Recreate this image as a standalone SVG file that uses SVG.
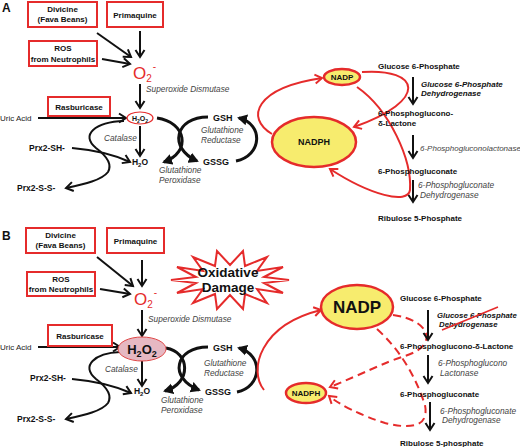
<svg xmlns="http://www.w3.org/2000/svg" width="520" height="447" viewBox="0 0 520 447">
<defs>
<style>
text{font-family:"Liberation Sans",Arial,sans-serif;}
.b{font-weight:bold;font-size:8px;fill:#111;}
.bc{font-weight:bold;font-size:8px;fill:#111;text-anchor:middle;}
.i{font-style:italic;font-size:8.3px;fill:#444;}
.bi{font-style:italic;font-weight:bold;font-size:8px;fill:#111;}
.n{font-size:8px;fill:#222;}
.box{fill:#fff;stroke:#e52b2b;stroke-width:2;}
.ar{stroke:#111;stroke-width:2;fill:none;marker-end:url(#chev);}
.arc{stroke:#111;stroke-width:3;fill:none;marker-end:url(#tri);}
.red{stroke:#e52b2b;stroke-width:2;fill:none;marker-end:url(#chevR);}
.dash{stroke:#e52b2b;stroke-width:2;fill:none;stroke-dasharray:8,5;marker-end:url(#chevR);}
.yel{fill:#f7ec6e;stroke:#e52b2b;stroke-width:2.5;}
</style>
<marker id="chev" markerUnits="userSpaceOnUse" markerWidth="12" markerHeight="12" refX="9" refY="6" orient="auto"><path d="M2,1.5 L9,6 L2,10.5" fill="none" stroke="#111" stroke-width="2"/></marker>
<marker id="chevR" markerUnits="userSpaceOnUse" markerWidth="12" markerHeight="12" refX="9" refY="6" orient="auto"><path d="M2,1.5 L9,6 L2,10.5" fill="none" stroke="#e52b2b" stroke-width="2"/></marker>
<marker id="tri" markerUnits="userSpaceOnUse" markerWidth="12" markerHeight="12" refX="8" refY="6" orient="auto"><path d="M0,0.5 L10,6 L0,11.5 z" fill="#111"/></marker>
</defs>
<rect width="520" height="447" fill="#fff"/>

<!-- PANEL A -->
<text x="2" y="12" style="font-weight:bold;font-size:12px;fill:#111">A</text>
<g id="connectorsA">
<line class="ar" x1="97" y1="33" x2="131" y2="57"/>
<line class="ar" x1="102" y1="59" x2="130" y2="64"/>
<line class="ar" x1="140" y1="31" x2="140" y2="57"/>
<line class="ar" x1="140" y1="84" x2="140" y2="108"/>
<line class="ar" x1="38" y1="118" x2="126" y2="118"/>
<line class="ar" x1="140" y1="126" x2="140" y2="156"/>
<path class="ar" d="M124,121 C95,122 80,135 96,148 C108,157 112,165 108,172 C102,180 85,184 66,188"/>
<path class="ar" d="M72,148 C95,150 115,155 130,162"/>
<path class="arc" d="M157,118 C186,122 192,152 164,162"/>
<path class="arc" d="M208,117 C175,117 168,148 197,161"/>
<path class="arc" d="M236,161 C262,156 264,124 239,118"/>
<path class="red" d="M272,134 C245,118 255,88 322,78"/>
<path class="red" d="M362,72 C420,68 430,100 354,127"/>
<path class="red" d="M357,87 C390,110 412,160 410,190 C408,205 370,195 330,169"/>
<line class="ar" x1="413" y1="77" x2="413" y2="104"/>
<line class="ar" x1="413" y1="135" x2="413" y2="158"/>
<line class="ar" x1="413" y1="180" x2="413" y2="202"/>
</g>
<g id="divicineA"><rect class="box" x="28" y="2" width="69" height="25"/><text class="bc" x="62.5" y="12">Divicine</text><text class="bc" x="62.5" y="22">(Fava Beans)</text></g>
<g id="primaquineA"><rect class="box" x="107" y="2" width="56" height="25"/><text class="bc" x="135" y="18">Primaquine</text></g>
<g id="rosA"><rect class="box" x="29" y="41" width="68" height="25"/><text class="bc" x="63" y="51">ROS</text><text class="bc" x="63" y="62">from Neutrophils</text></g>
<g id="o2A"><text x="133" y="79" style="font-size:17px;fill:#e52b2b">O<tspan style="font-size:10px" dy="3">2</tspan><tspan style="font-size:10px" dx="1" dy="-12">-</tspan></text></g>
<text class="i" x="146" y="92">Superoxide Dismutase</text>
<g id="rasA"><rect class="box" x="48" y="97" width="62" height="19"/><text class="bc" x="79" y="110">Rasburicase</text></g>
<text class="n" x="0" y="121">Uric Acid</text>
<g id="h2o2A"><ellipse cx="140" cy="118" rx="13" ry="6" fill="#fff" stroke="#e52b2b" stroke-width="1.2"/><text x="140" y="121" style="font-weight:bold;font-size:7px;fill:#111;text-anchor:middle">H<tspan style="font-size:5px" dy="1.5">2</tspan><tspan dy="-1.5">O</tspan><tspan style="font-size:5px" dy="1.5">2</tspan></text></g>
<text class="i" x="104" y="141">Catalase</text>
<g id="h2oA"><text x="140" y="165" style="font-weight:bold;font-size:8.5px;fill:#111;text-anchor:middle">H<tspan style="font-size:6px" dy="1.5">2</tspan><tspan dy="-1.5">O</tspan></text></g>
<text class="b" x="29" y="151" style="font-size:8.5px">Prx2-SH-</text>
<text class="b" x="17" y="191" style="font-size:8.5px">Prx2-S-S-</text>
<text class="b" x="213" y="121" style="font-size:9px">GSH</text>
<text class="b" x="203" y="165" style="font-size:9px">GSSG</text>
<text class="i" x="201" y="133">Glutathione</text><text class="i" x="201" y="143">Reductase</text>
<text class="i" x="159" y="173">Glutathione</text><text class="i" x="159" y="183">Peroxidase</text>
<g id="nadphA"><ellipse class="yel" cx="314" cy="142" rx="42" ry="25"/><text class="bc" x="314" y="145" style="font-size:9px">NADPH</text></g>
<g id="nadpA"><ellipse class="yel" cx="342" cy="77" rx="18" ry="8"/><text class="bc" x="342" y="80">NADP</text></g>
<text class="b" x="378" y="69">Glucose 6-Phosphate</text>
<text class="bi" x="421" y="87">Glucose 6-Phosphate</text><text class="bi" x="421" y="96">Dehydrogenase</text>
<text class="b" x="378" y="116">6-Phosphoglucono-</text><text class="b" x="378" y="126">δ-Lactone</text>
<text class="i" x="420" y="151" style="font-size:8px">6-Phosphogluconolactonase</text>
<text class="b" x="378" y="174">6-Phosphogluconate</text>
<text class="i" x="418" y="188">6-Phosphogluconate</text><text class="i" x="420" y="198">Dehydrogenase</text>
<text class="b" x="378" y="221">Ribulose 5-Phosphate</text>

<!-- PANEL B -->
<text x="2" y="240" style="font-weight:bold;font-size:12px;fill:#111">B</text>
<g id="connectorsB">
<line class="ar" x1="97" y1="257" x2="133" y2="286"/>
<line class="ar" x1="100" y1="289" x2="130" y2="294"/>
<line class="ar" x1="142" y1="260" x2="142" y2="286"/>
<line class="ar" x1="142" y1="310" x2="142" y2="336"/>
<line class="ar" x1="38" y1="347" x2="120" y2="347"/>
<line class="ar" x1="142" y1="361" x2="142" y2="386"/>
<path class="ar" d="M120,352 C95,353 80,366 96,379 C108,388 112,396 108,403 C102,411 85,415 66,419"/>
<path class="ar" d="M72,379 C95,381 115,386 131,393"/>
<path class="arc" d="M166,348 C190,352 192,383 165,391"/>
<path class="arc" d="M208,347 C175,347 168,378 199,390"/>
<path class="arc" d="M237,392 C262,387 264,355 239,348"/>
<path class="red" d="M264,390 C248,370 260,325 321,310"/>
<path class="dash" d="M393,315 C430,320 440,345 405,356 C385,362 360,375 330,387"/>
<path class="dash" d="M377,329 C400,350 415,375 425,405 C430,430 405,428 385,423 C360,415 340,405 329,396"/>
<line class="ar" x1="428" y1="310" x2="428" y2="340"/>
<line class="ar" x1="428" y1="355" x2="428" y2="383"/>
<line class="ar" x1="430" y1="402" x2="430" y2="430"/>
</g>
<g id="divicineB"><rect class="box" x="26" y="228" width="69" height="25"/><text class="bc" x="60.5" y="238">Divicine</text><text class="bc" x="60.5" y="248">(Fava Beans)</text></g>
<g id="primaquineB"><rect class="box" x="107" y="228" width="57" height="25"/><text class="bc" x="135.5" y="244">Primaquine</text></g>
<g id="rosB"><rect class="box" x="27" y="272" width="68" height="24"/><text class="bc" x="61" y="282">ROS</text><text class="bc" x="61" y="292">from Neutrophils</text></g>
<g id="o2B"><text x="134" y="305" style="font-size:17px;fill:#e52b2b">O<tspan style="font-size:10px" dy="3">2</tspan><tspan style="font-size:10px" dx="1" dy="-12">-</tspan></text></g>
<text class="i" x="148" y="322">Superoxide Dismutase</text>
<g id="damage"><polygon points="289,280 264,283 283,293 257,289 267,303 245,294 243,309 230,295 217,309 215,294 193,303 203,289 177,293 196,283 171,280 196,277 177,267 203,271 193,257 215,266 217,251 230,265 243,251 245,266 267,257 257,271 283,267 264,277" fill="#fff" stroke="#e52b2b" stroke-width="2"/><text x="228" y="277" style="font-weight:bold;font-size:13.5px;fill:#111;text-anchor:middle">Oxidative</text><text x="228" y="292" style="font-weight:bold;font-size:13.5px;fill:#111;text-anchor:middle">Damage</text></g>
<g id="rasB"><rect class="box" x="48" y="325" width="64" height="21"/><text class="bc" x="80" y="339">Rasburicase</text></g>
<text class="n" x="0" y="350">Uric Acid</text>
<g id="h2o2B"><ellipse cx="142" cy="349" rx="24" ry="12" fill="#e6b8c2" stroke="#e04848" stroke-width="1"/><text x="142" y="354" style="font-weight:bold;font-size:13px;fill:#111;text-anchor:middle">H<tspan style="font-size:9px" dy="3">2</tspan><tspan dy="-3">O</tspan><tspan style="font-size:9px" dy="3">2</tspan></text></g>
<text class="i" x="105" y="372">Catalase</text>
<g id="h2oB"><text x="142" y="394" style="font-weight:bold;font-size:8.5px;fill:#111;text-anchor:middle">H<tspan style="font-size:6px" dy="1.5">2</tspan><tspan dy="-1.5">O</tspan></text></g>
<text class="b" x="30" y="381" style="font-size:8.5px">Prx2-SH-</text>
<text class="b" x="17" y="422" style="font-size:8.5px">Prx2-S-S-</text>
<text class="b" x="213" y="351" style="font-size:9px">GSH</text>
<text class="b" x="205" y="395" style="font-size:9px">GSSG</text>
<text class="i" x="204" y="366">Glutathione</text><text class="i" x="204" y="376">Reductase</text>
<text class="i" x="161" y="403">Glutathione</text><text class="i" x="161" y="413">Peroxidase</text>
<g id="nadpB"><ellipse class="yel" cx="357" cy="307" rx="36" ry="22"/><text class="bc" x="357" y="313" style="font-size:17px">NADP</text></g>
<g id="nadphB"><ellipse class="yel" cx="306" cy="393" rx="20" ry="10"/><text class="bc" x="306" y="396">NADPH</text></g>
<text class="b" x="400" y="301">Glucose 6-Phosphate</text>
<text class="bi" x="437" y="318" style="font-size:7.8px">Glucose 6-Phosphate</text><text class="bi" x="439" y="327" style="font-size:7.8px">Dehydrogenase</text>
<line x1="442" y1="330" x2="498" y2="307" stroke="#e52b2b" stroke-width="1.5"/>
<text class="b" x="400" y="349">6-Phosphoglucono-δ-Lactone</text>
<text class="i" x="438" y="366">6-Phosphoglucono</text><text class="i" x="440" y="376">Lactonase</text>
<text class="b" x="400" y="397">6-Phosphogluconate</text>
<text class="i" x="440" y="414">6-Phosphogluconate</text><text class="i" x="442" y="423">Dehydrogenase</text>
<text class="b" x="400" y="446">Ribulose 5-phosphate</text>
</svg>
